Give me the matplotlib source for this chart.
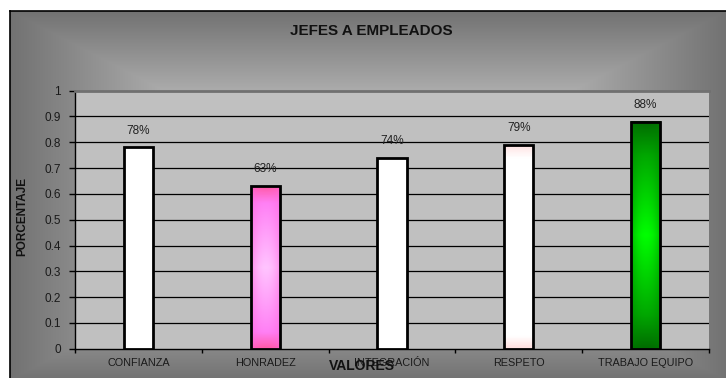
import numpy as np
import matplotlib
matplotlib.use("Agg")
import matplotlib.pyplot as plt
from matplotlib.colors import LinearSegmentedColormap, to_rgb

plt.rcParams['font.family'] = ['Liberation Sans', 'DejaVu Sans']

# data
categories = ["CONFIANZA", "HONRADEZ", "INTEGRACIÓN", "RESPETO", "TRABAJO EQUIPO"]
values = [0.78, 0.63, 0.74, 0.79, 0.88]
labels = ["78%", "63%", "74%", "79%", "88%"]
y_ticks = [0, 0.1, 0.2, 0.3, 0.4, 0.5, 0.6, 0.7, 0.8, 0.9, 1]
y_tick_labels = ["0", "0.1", "0.2", "0.3", "0.4", "0.5", "0.6", "0.7", "0.8", "0.9", "1"]

W, H = 726, 378
fig = plt.figure(figsize=(W / 100, H / 100), dpi=100)

# chart area background: rectangular "from center" gradient
bg = fig.add_axes([0, 0, 1, 1], zorder=0)
yy, xx = np.mgrid[0:H, 0:W]
t = np.maximum(np.abs(xx - 368) / 358.0, np.abs(yy - 195) / 184.0)
t = np.clip(t, 0, 1)
shade = (248 - 134 * t) / 255.0
img = np.dstack([shade, shade, shade])
img[:, :10] = 1.0
img[:11, :] = 1.0
bg.imshow(img, extent=[0, W, H, 0], aspect='auto', interpolation='bilinear')
bg.plot([10, 10], [11, H], color='black', lw=1.2)
bg.plot([10, W], [11, 11], color='black', lw=1.2)
bg.set_xlim(0, W)
bg.set_ylim(H, 0)
bg.axis('off')

ax = fig.add_axes([75 / W, 1 - 348.7 / H, 634 / W, 258 / H], zorder=1)
ax.set_facecolor('#c0c0c0')

x = np.arange(len(categories))
bar_w = 0.23
bars = ax.bar(x, values, width=bar_w, color='white', edgecolor='none', zorder=3)


def bar_gradient(bar, stops_v, edge_col=None, edge_amt=0.0):
    cmap = LinearSegmentedColormap.from_list('g', stops_v)
    v = np.linspace(0, 1, 200)[:, None]
    u = np.linspace(0, 1, 60)[None, :]
    col = cmap(np.repeat(v, 60, axis=1))[..., :3]
    if edge_col is not None:
        th = (np.abs(u - 0.5) * 2) ** 2 * edge_amt
        ec = np.array(to_rgb(edge_col))
        col = col * (1 - th[..., None]) + ec * th[..., None]
    x0 = bar.get_x()
    ax.imshow(col, extent=[x0, x0 + bar.get_width(), 0, bar.get_height()],
              aspect='auto', origin='lower', zorder=3.2, clip_path=bar,
              interpolation='bilinear')


# HONRADEZ pink
bar_gradient(bars[1], [(0, '#ff5aa8'), (0.1, '#ff80f5'), (0.5, '#ffc4ff'),
                       (0.9, '#ff80f5'), (1, '#ff5aa8')], '#ff66dd', 0.6)
# RESPETO white with pink ends
bar_gradient(bars[3], [(0, '#ffe0e0'), (0.06, '#ffffff'), (0.94, '#ffffff'),
                       (1, '#ffe4e4')])
# TRABAJO EQUIPO green
bar_gradient(bars[4], [(0, '#006c00'), (0.15, '#00a800'), (0.5, '#00ff00'),
                       (0.85, '#00a800'), (1, '#006c00')], '#008000', 0.5)

ax.bar(x, values, width=bar_w, fill=False, edgecolor='black', linewidth=2, zorder=4)

for xi, v, lab in zip(x, values, labels):
    ax.annotate(lab, (xi, v), xytext=(0, 12), textcoords='offset points',
                ha='center', va='center', fontsize=8.5, color='#222222')

ax.set_xlim(-0.5, len(categories) - 0.5)
ax.set_ylim(0, 1)
ax.set_yticks(y_ticks)
ax.set_yticklabels(y_tick_labels, fontsize=8.5, color='#1a1a1a')
for yv in y_ticks[1:-1]:
    ax.axhline(yv, color='black', lw=0.9, zorder=1)

ax.set_xticks(x)
ax.set_xticklabels(categories, fontsize=7.8, color='#1a1a1a')
ax.set_xticks(np.arange(len(categories) + 1) - 0.5, minor=True)
ax.tick_params(axis='x', which='major', length=0, pad=7)
ax.tick_params(axis='x', which='minor', length=3, direction='out', width=1)
ax.tick_params(axis='y', length=4, direction='out', width=1, pad=6)

ax.spines['top'].set_color('#707070')
ax.spines['top'].set_linewidth(2)
ax.spines['right'].set_visible(False)
ax.spines['left'].set_color('black')
ax.spines['bottom'].set_color('black')
ax.spines['left'].set_linewidth(1)
ax.spines['bottom'].set_linewidth(1)

fig.text(371 / W, 1 - 31 / H, "JEFES A EMPLEADOS", ha='center', va='center',
         fontsize=11, fontweight='bold', color='#111111')
fig.text(362 / W, 1 - 366 / H, "VALORES", ha='center', va='center',
         fontsize=10, fontweight='bold', color='#111111', zorder=5)
fig.text(22 / W, 1 - 217 / H, "PORCENTAJE", ha='center', va='center',
         rotation=90, fontsize=8.5, fontweight='bold', color='#111111')

fig.savefig("out.png", dpi=100)
